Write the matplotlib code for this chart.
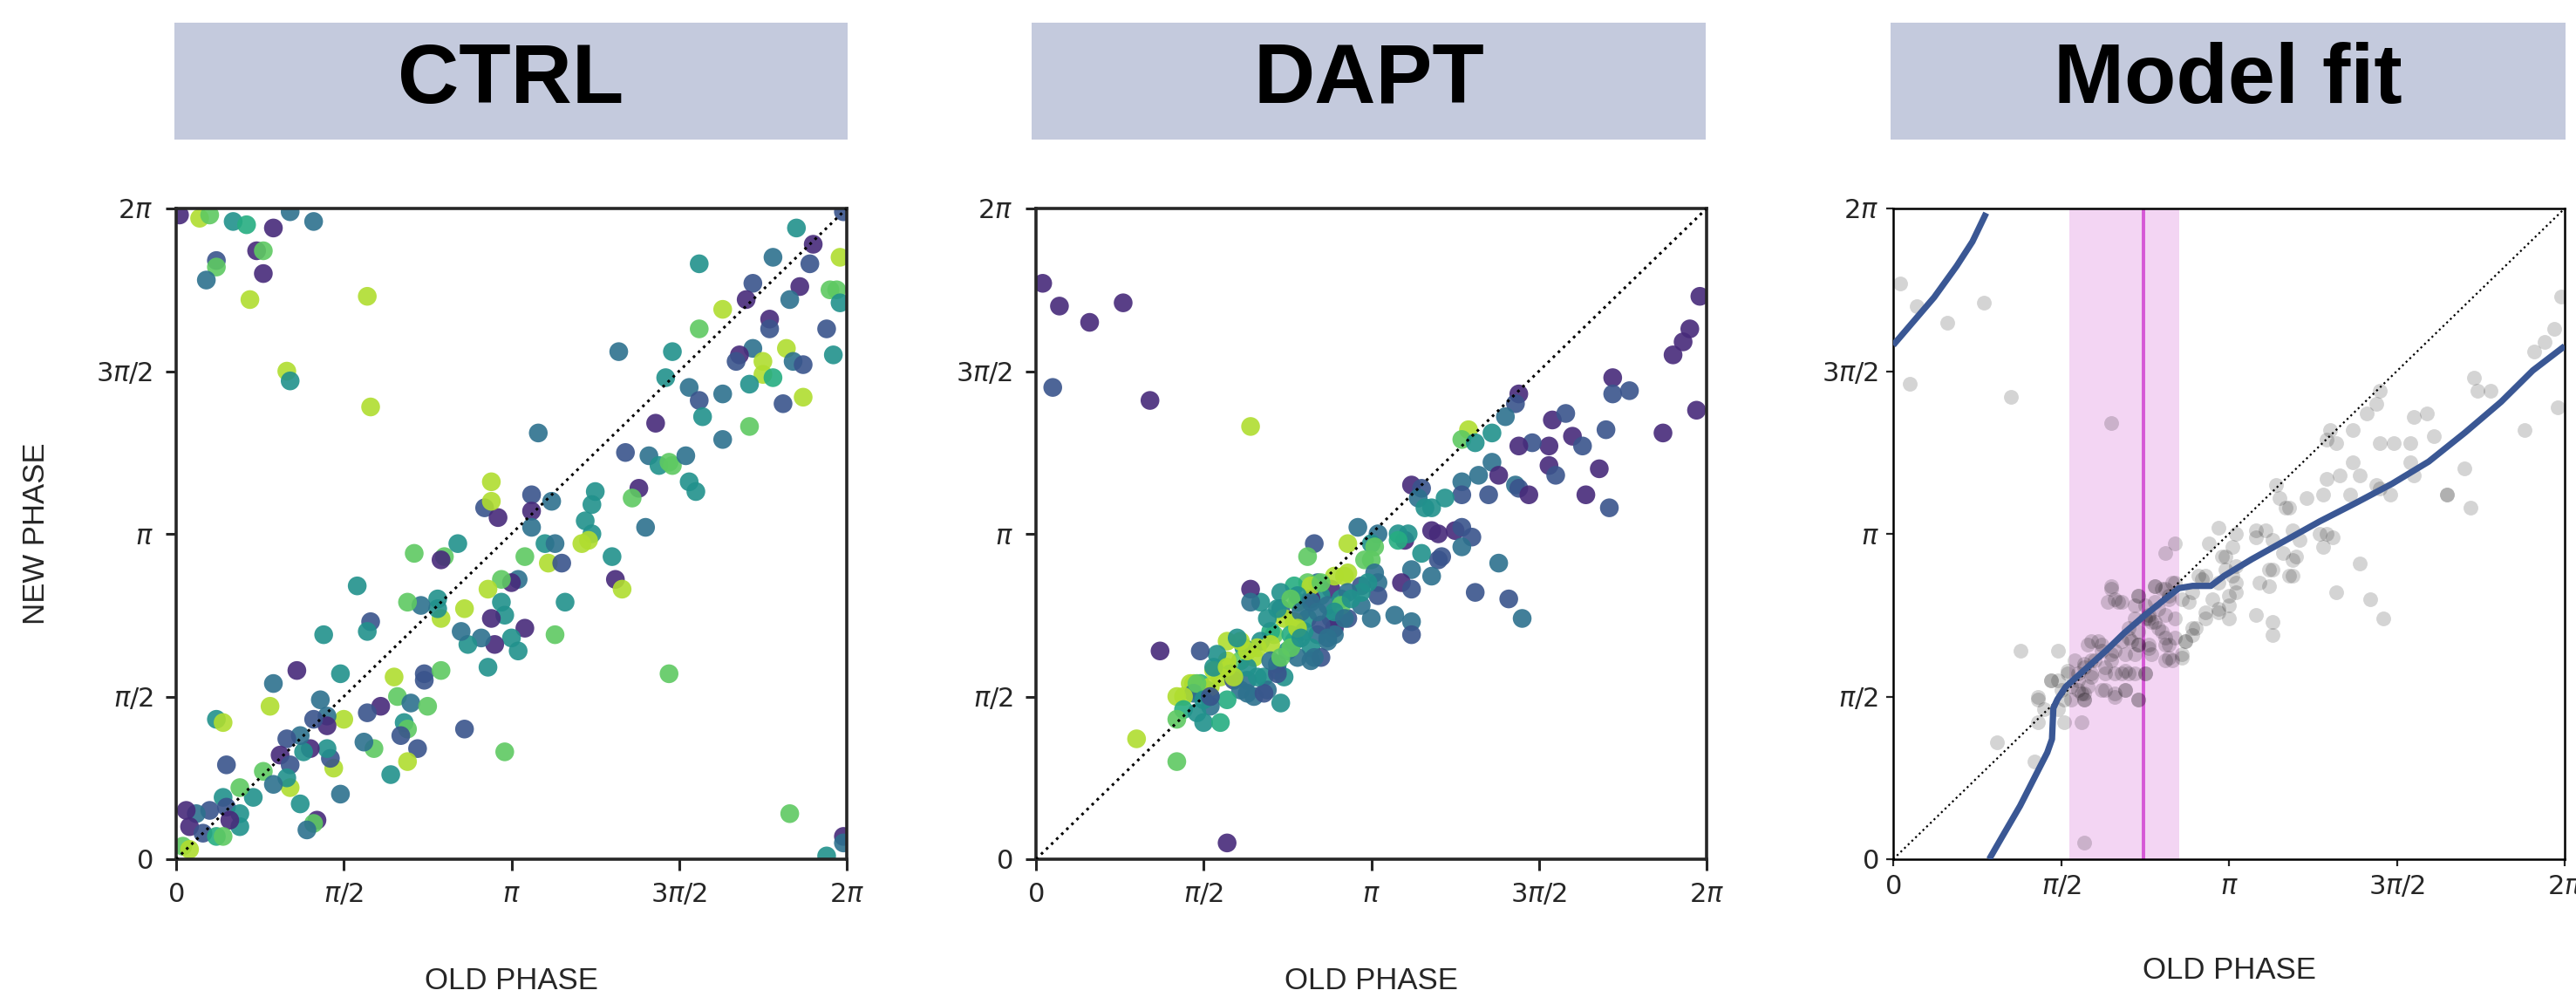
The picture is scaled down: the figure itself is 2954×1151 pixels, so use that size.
import matplotlib

matplotlib.use("Agg")
import matplotlib.pyplot as plt
import numpy as np
from matplotlib.patches import Rectangle

# all phases are given in units of pi
TITLES = ["CTRL", "DAPT", "Model fit"]
TICKS = [0, 0.5, 1, 1.5, 2]
TICK_LABELS = ["$0$", r"$\pi/2$", r"$\pi$", r"$3\pi/2$", r"$2\pi$"]

# colour codes -> position on viridis
HUE_LEVELS = {"P": 0.12, "B": 0.26, "D": 0.37, "T": 0.50, "M": 0.62, "G": 0.75, "Y": 0.88}

ctrl_old = [
    0.01, 0.07, 0.10, 0.17, 0.21, 0.29, 0.34, 0.41, 0.24, 0.26,
    0.12, 0.12, 0.09, 0.26, 0.22, 0.57, 0.33, 0.34, 0.58, 1.99,
    1.85, 1.90, 1.98, 1.56, 1.78, 1.89, 1.72, 1.86, 1.70, 1.63,
    1.95, 1.97, 1.98, 1.83, 1.56, 1.77, 1.77, 1.94, 1.72, 1.68,
    1.67, 1.82, 1.75, 1.75, 1.78, 1.84, 1.87, 1.96, 1.71, 1.63,
    1.87, 1.81, 1.32, 1.48, 1.46, 1.53, 1.56, 1.57, 1.63, 1.71,
    1.43, 1.08, 1.34, 1.41, 1.44, 1.47, 1.48, 1.52, 1.53, 1.55,
    1.38, 1.36, 1.40, 1.25, 1.24, 1.22, 1.24, 1.21, 1.23, 1.30,
    1.31, 1.33, 1.16, 1.13, 1.47, 1.06, 1.12, 1.06, 0.92, 0.96,
    0.94, 0.94, 1.06, 1.10, 1.13, 1.04, 1.11, 1.15, 1.02, 1.00,
    0.97, 0.93, 0.97, 0.98, 0.94, 1.04, 1.00, 1.02, 0.95, 0.91,
    0.87, 0.85, 0.86, 0.79, 0.78, 0.78, 0.73, 0.69, 0.80, 0.79,
    0.84, 0.71, 0.54, 0.58, 0.57, 0.44, 0.29, 0.36, 0.49, 0.65,
    0.74, 0.74, 0.79, 0.93, 0.66, 0.70, 0.75, 0.43, 0.61, 0.57,
    0.28, 0.50, 0.45, 0.45, 0.41, 0.12, 0.14, 0.68, 0.69, 0.67,
    0.86, 0.72, 0.59, 0.56, 0.64, 0.69, 0.98, 0.49, 0.47, 0.46,
    0.45, 0.40, 0.38, 0.37, 0.33, 0.31, 0.34, 0.26, 0.34, 0.33,
    0.29, 0.23, 0.19, 0.15, 0.37, 0.42, 0.41, 0.39, 0.14, 0.15,
    0.19, 0.19, 0.16, 0.10, 0.06, 0.03, 0.04, 0.08, 0.12, 0.14,
    0.02, 0.04, 1.83, 1.99, 1.99, 1.94,
]
ctrl_new = [
    1.98, 1.97, 1.98, 1.96, 1.95, 1.94, 1.99, 1.96, 1.87, 1.87,
    1.84, 1.82, 1.78, 1.80, 1.72, 1.73, 1.50, 1.47, 1.39, 1.99,
    1.94, 1.89, 1.85, 1.83, 1.85, 1.83, 1.77, 1.76, 1.72, 1.69,
    1.75, 1.75, 1.71, 1.72, 1.63, 1.66, 1.63, 1.63, 1.57, 1.55,
    1.53, 1.57, 1.53, 1.49, 1.48, 1.53, 1.52, 1.55, 1.46, 1.43,
    1.42, 1.40, 1.56, 1.56, 1.48, 1.45, 1.41, 1.36, 1.29, 1.33,
    1.34, 1.31, 1.25, 1.24, 1.21, 1.22, 1.21, 1.24, 1.16, 1.13,
    1.14, 1.11, 1.02, 1.13, 1.09, 1.04, 1.00, 0.97, 0.98, 0.93,
    0.86, 0.83, 0.79, 0.69, 0.57, 1.12, 1.10, 1.07, 1.08, 1.05,
    1.16, 1.10, 1.02, 0.97, 0.97, 0.93, 0.91, 0.91, 0.86, 0.85,
    0.86, 0.83, 0.79, 0.75, 0.74, 0.71, 0.68, 0.64, 0.66, 0.68,
    0.66, 0.70, 0.77, 0.74, 0.77, 0.80, 0.78, 0.79, 0.93, 0.92,
    0.97, 0.94, 0.84, 0.73, 0.70, 0.69, 0.54, 0.58, 0.57, 0.56,
    0.57, 0.55, 0.58, 0.59, 0.50, 0.48, 0.47, 0.49, 0.47, 0.45,
    0.47, 0.43, 0.44, 0.41, 0.43, 0.43, 0.42, 0.42, 0.40, 0.38,
    0.40, 0.34, 0.34, 0.36, 0.26, 0.30, 0.33, 0.20, 0.28, 0.31,
    0.34, 0.34, 0.33, 0.38, 0.37, 0.32, 0.29, 0.27, 0.22, 0.25,
    0.23, 0.19, 0.22, 0.29, 0.17, 0.12, 0.11, 0.09, 0.19, 0.16,
    0.14, 0.10, 0.12, 0.15, 0.14, 0.15, 0.10, 0.08, 0.07, 0.07,
    0.04, 0.03, 0.14, 0.07, 0.05, 0.01,
]
ctrl_hue = (
    "PYGTMPDDPG" "BGDPYYYTYB" "TPYTDBBPPY" "GGTDGPBBDP" "BYYYMDBTTD"
    "YBDTTDBTDG" "PDBDTGGDTT" "PGDTTTTYYT" "PYTGGBDPBP" "YYDTDGYBDP"
    "GYTTPPTTPD" "TDYYTTDGGP" "TGTBTTDPTY" "BBGTGDGDPB" "YYDPBTYTGB"
    "BBGDTYGDYB" "TPTDBPBGYT" "DTGBTPGDTB" "TTPBDPPBMG" "GYGPDT"
)

dapt_old = [
    0.02, 0.07, 0.16, 0.26, 0.05, 0.34, 0.64, 1.98, 1.95, 1.93,
    1.90, 1.97, 1.87, 1.72, 1.72, 1.77, 1.44, 1.43, 1.40, 1.54,
    1.58, 1.70, 1.60, 1.63, 1.53, 1.48, 1.44, 1.36, 1.29, 1.27,
    1.31, 1.53, 1.55, 1.68, 1.64, 1.71, 1.36, 1.32, 1.38, 1.27,
    1.43, 1.44, 1.47, 1.35, 1.27, 1.12, 1.15, 1.14, 1.16, 1.22,
    1.18, 1.18, 1.20, 1.25, 1.27, 1.30, 1.27, 1.38, 1.31, 1.41,
    1.45, 1.21, 1.20, 1.15, 1.12, 1.18, 1.10, 1.08, 1.11, 1.08,
    1.09, 1.12, 1.07, 1.12, 1.12, 0.96, 1.02, 1.00, 0.93, 0.98,
    1.00, 0.83, 0.81, 1.01, 1.02, 1.02, 0.97, 0.92, 0.93, 0.88,
    0.84, 0.81, 0.85, 0.77, 0.73, 0.67, 0.64, 0.64, 0.73, 0.78,
    0.82, 0.87, 0.91, 0.93, 1.00, 0.97, 0.97, 0.88, 0.89, 0.89,
    0.81, 0.77, 0.74, 0.71, 0.70, 0.67, 0.77, 0.84, 0.87, 0.82,
    0.75, 0.78, 0.70, 0.66, 0.62, 0.61, 0.57, 0.65, 0.61, 0.57,
    0.54, 0.58, 0.55, 0.53, 0.59, 0.63, 0.68, 0.72, 0.74, 0.82,
    0.85, 0.69, 0.73, 0.65, 0.61, 0.57, 0.52, 0.51, 0.49, 0.49,
    0.52, 0.47, 0.46, 0.47, 0.44, 0.42, 0.44, 0.48, 0.50, 0.55,
    0.42, 0.37, 0.49, 0.30, 0.42, 0.57, 0.69, 0.76, 0.80, 0.72,
    0.63, 0.85, 0.93, 0.99, 1.01, 0.89, 0.82, 0.85, 0.78, 0.72,
    0.76, 0.82, 0.91, 0.94, 0.89, 0.84, 0.79, 0.78, 0.76, 0.83,
    0.87, 0.92, 0.63, 0.60, 0.53, 0.57, 0.59, 0.52, 0.48, 0.63,
    0.68, 0.66, 0.72, 0.70, 0.73, 0.79, 0.50, 0.52,
]
dapt_new = [
    1.77, 1.70, 1.65, 1.71, 1.45, 1.41, 1.33, 1.73, 1.63, 1.59,
    1.55, 1.38, 1.31, 1.48, 1.43, 1.44, 1.43, 1.40, 1.36, 1.35,
    1.37, 1.32, 1.30, 1.27, 1.27, 1.28, 1.27, 1.31, 1.32, 1.29,
    1.28, 1.21, 1.18, 1.20, 1.12, 1.08, 1.22, 1.18, 1.18, 1.16,
    1.15, 1.14, 1.12, 1.12, 1.12, 1.15, 1.14, 1.11, 1.08, 1.11,
    1.08, 1.01, 1.00, 1.01, 1.02, 0.99, 0.96, 0.91, 0.82, 0.80,
    0.74, 0.93, 0.92, 0.94, 0.89, 0.87, 0.98, 1.00, 1.00, 0.98,
    0.85, 0.83, 0.75, 0.73, 0.69, 1.02, 1.00, 0.97, 0.97, 0.92,
    0.92, 0.97, 0.93, 0.88, 0.85, 0.81, 0.84, 0.87, 0.88, 0.83,
    0.85, 0.85, 0.81, 0.84, 0.82, 0.79, 0.83, 0.79, 0.77, 0.79,
    0.80, 0.78, 0.80, 0.74, 0.74, 0.78, 0.82, 0.74, 0.71, 0.69,
    0.74, 0.73, 0.74, 0.69, 0.70, 0.67, 0.67, 0.69, 0.67, 0.65,
    0.64, 0.62, 0.66, 0.65, 0.65, 0.67, 0.67, 0.62, 0.61, 0.61,
    0.63, 0.57, 0.56, 0.58, 0.55, 0.55, 0.56, 0.58, 0.56, 0.61,
    0.62, 0.52, 0.48, 0.50, 0.52, 0.49, 0.50, 0.52, 0.54, 0.51,
    0.47, 0.54, 0.54, 0.51, 0.50, 0.50, 0.46, 0.45, 0.42, 0.42,
    0.43, 0.64, 0.64, 0.37, 0.30, 0.05, 0.74, 0.69, 0.70, 0.60,
    0.59, 0.72, 0.82, 0.85, 0.96, 0.87, 0.84, 0.85, 0.81, 0.77,
    0.80, 0.79, 0.78, 0.80, 0.76, 0.76, 0.76, 0.71, 0.65, 0.62,
    0.68, 0.74, 0.64, 0.68, 0.59, 0.59, 0.56, 0.53, 0.54, 0.51,
    0.51, 0.56, 0.57, 0.61, 0.62, 0.68, 0.49, 0.50,
]
dapt_hue = (
    "PPPPBPYPPP" "PPPPBBPBDP" "BBPBPBPTYG" "TPBPPBDDPD" "DBPBBPBDTT"
    "TPPPBBDDBB" "DBBTDDPTTM" "PBDDBDDTYG" "GBGDDBBYYP" "DGTMTTPDDG"
    "PDTBDDTDPD" "TYYGMTTDDT" "TDYYTYYYGY" "TMYYBDTDTD" "BDTDDMTTMB"
    "DYYDYYMTTM" "GPBYGPTMTD" "TBDTGYYGTT" "GDGTTDDYGD" "DDYTTYYYGD"
    "BTBDGTTB"
)

fit_points_old = [
    0.02, 0.07, 0.16, 0.27, 0.05, 0.35, 0.65, 1.99, 1.97, 1.94,
    1.91, 1.98, 1.88, 1.73, 1.74, 1.78, 1.45, 1.44, 1.41, 1.55,
    1.59, 1.61, 1.45, 1.49, 1.54, 1.30, 1.29, 1.32, 1.37, 1.70,
    1.72, 1.65, 1.55, 1.54, 1.37, 1.39, 1.33, 1.29, 1.28, 1.36,
    1.44, 1.45, 1.48, 1.14, 1.15, 1.18, 1.23, 1.17, 1.27, 1.29,
    1.31, 1.28, 1.19, 1.21, 0.97, 1.02, 1.08, 1.11, 1.13, 1.08,
    1.39, 1.32, 1.42, 1.46, 1.20, 1.19, 1.16, 1.13, 1.19, 1.09,
    1.12, 1.08, 1.13, 1.13, 0.94, 0.99, 1.01, 0.99, 1.01, 1.02,
    1.02, 0.97, 0.93, 0.92, 0.89, 0.95, 0.97, 1.00, 1.00, 0.93,
    0.89, 0.89, 0.87, 0.86, 0.84, 0.81, 0.78, 0.81, 0.84, 0.82,
    0.86, 0.78, 0.73, 0.75, 0.68, 0.65, 0.66, 0.76, 0.78, 0.75,
    0.80, 0.81, 0.76, 0.82, 0.73, 0.70, 0.68, 0.73, 0.77, 0.81,
    0.83, 0.72, 0.69, 0.66, 0.62, 0.58, 0.61, 0.59, 0.57, 0.54,
    0.52, 0.55, 0.59, 0.63, 0.65, 0.68, 0.70, 0.75, 0.62, 0.66,
    0.69, 0.73, 0.58, 0.57, 0.55, 0.53, 0.57, 0.51, 0.50, 0.47,
    0.49, 0.43, 0.45, 0.49, 0.51, 0.43, 0.56, 0.38, 0.49, 0.31,
    0.42, 0.57, 1.65, 0.65, 0.64, 0.67, 0.72, 0.73, 0.78, 0.80,
    0.83, 0.82, 0.79, 0.77, 0.79, 0.76, 0.81, 0.84, 0.72, 0.70,
    0.71, 0.73, 0.76, 0.81, 0.84, 0.82, 0.86, 0.65, 0.62, 0.59,
    0.60, 0.57, 0.55, 0.59, 0.63, 0.66, 0.69, 0.72, 0.75, 0.63,
    0.66, 0.69, 0.73, 0.56, 0.57, 0.53, 0.52, 0.88, 0.90, 0.93,
    0.97, 1.00, 0.87, 0.91, 0.98, 1.02, 1.12, 1.18, 0.47, 0.43,
]
fit_points_new = [
    1.77, 1.70, 1.65, 1.71, 1.46, 1.42, 1.34, 1.73, 1.63, 1.59,
    1.56, 1.39, 1.32, 1.48, 1.44, 1.44, 1.44, 1.40, 1.37, 1.36,
    1.37, 1.30, 1.28, 1.28, 1.28, 1.32, 1.29, 1.28, 1.32, 1.20,
    1.08, 1.12, 1.18, 1.22, 1.22, 1.18, 1.18, 1.17, 1.12, 1.12,
    1.15, 1.14, 1.12, 1.15, 1.11, 1.08, 1.11, 1.08, 1.00, 1.00,
    0.99, 0.96, 1.01, 0.98, 1.02, 1.00, 1.01, 1.01, 0.98, 0.99,
    0.91, 0.82, 0.80, 0.74, 0.93, 0.92, 0.94, 0.89, 0.87, 0.85,
    0.84, 0.75, 0.73, 0.69, 0.97, 0.93, 0.96, 0.89, 0.87, 0.85,
    0.82, 0.85, 0.87, 0.86, 0.82, 0.80, 0.76, 0.74, 0.78, 0.74,
    0.71, 0.69, 0.67, 0.62, 0.97, 0.94, 0.84, 0.83, 0.85, 0.81,
    0.80, 0.79, 0.81, 0.78, 0.79, 0.83, 0.80, 0.75, 0.73, 0.74,
    0.70, 0.68, 0.66, 0.66, 0.70, 0.68, 0.67, 0.66, 0.63, 0.61,
    0.61, 0.63, 0.63, 0.64, 0.64, 0.66, 0.67, 0.61, 0.60, 0.61,
    0.58, 0.57, 0.57, 0.59, 0.61, 0.57, 0.57, 0.57, 0.52, 0.50,
    0.52, 0.49, 0.53, 0.51, 0.52, 0.49, 0.49, 0.49, 0.52, 0.55,
    0.55, 0.49, 0.46, 0.46, 0.42, 0.42, 0.42, 0.64, 0.64, 0.36,
    0.30, 0.05, 1.12, 0.84, 0.79, 0.79, 0.78, 0.81, 0.84, 0.83,
    0.85, 0.80, 0.77, 0.73, 0.71, 0.74, 0.75, 0.74, 0.74, 0.71,
    0.67, 0.66, 0.65, 0.66, 0.68, 0.62, 0.63, 0.63, 0.66, 0.67,
    0.61, 0.59, 0.55, 0.56, 0.57, 0.57, 0.58, 0.57, 0.57, 0.52,
    0.51, 0.52, 0.49, 0.51, 0.49, 0.53, 0.57, 0.79, 0.71, 0.76,
    0.77, 0.81, 0.67, 0.87, 0.93, 0.90, 0.89, 0.87, 0.55, 0.50,
]

# fitted curve, split where it wraps round 2*pi
fit_wrap_old = [0.00, 0.054, 0.122, 0.189, 0.236, 0.277]
fit_wrap_new = [1.58, 1.645, 1.727, 1.823, 1.898, 1.986]
fit_curve_old = [
    0.286, 0.324, 0.378, 0.459, 0.473, 0.477, 0.489, 0.514, 0.568, 0.635,
    0.689, 0.743, 0.797, 0.851, 0.892, 0.946, 0.986, 1.068, 1.162, 1.270,
    1.378, 1.486, 1.595, 1.703, 1.811, 1.905, 2.000,
]
fit_curve_new = [
    0.000, 0.068, 0.164, 0.328, 0.369, 0.464, 0.491, 0.530, 0.580, 0.642,
    0.696, 0.744, 0.789, 0.833, 0.840, 0.840, 0.871, 0.922, 0.976, 1.038,
    1.095, 1.154, 1.222, 1.311, 1.406, 1.502, 1.577,
]

# shaded interval and its centre on panel 3
band_lo, band_hi, band_mid = 0.524, 0.851, 0.745

FIG_W, FIG_H = 2954, 1151
AX_LEFT = [202, 1188, 2171]
AX_WIDTH = [769, 769, 770]
AX_TOP, AX_BOTTOM = 239, 985
BOX_LEFT = [200, 1183, 2168]
BOX_WIDTH = [772, 773, 774]


def style_axes(ax, heavy):
    ax.set_xlim(0, 2 * np.pi)
    ax.set_ylim(0, 2 * np.pi)
    ticks = np.array(TICKS) * np.pi
    ax.set_xticks(ticks, labels=TICK_LABELS)
    ax.set_yticks(ticks, labels=TICK_LABELS)
    for spine in ax.spines.values():
        spine.set_linewidth(1.3 if heavy else 0.9)
        spine.set_color("#262626" if heavy else "black")
    ax.tick_params(
        direction="out",
        length=4.5 if heavy else 3.0,
        width=1.1 if heavy else 0.8,
        pad=5 if heavy else 3,
        labelsize=11,
        colors="#262626",
    )
    ax.plot([0, 2 * np.pi], [0, 2 * np.pi], ls=":", color="black",
            lw=1.1 if heavy else 0.8, zorder=3)


def main():
    """main function"""
    plt.rcParams["font.family"] = ["Liberation Sans", "DejaVu Sans"]
    plt.rcParams["mathtext.fontset"] = "dejavusans"

    fig = plt.figure(figsize=(FIG_W / 200, FIG_H / 200), dpi=200)
    axes = []
    for left, width in zip(AX_LEFT, AX_WIDTH):
        ax = fig.add_axes([left / FIG_W, 1 - AX_BOTTOM / FIG_H,
                           width / FIG_W, (AX_BOTTOM - AX_TOP) / FIG_H])
        axes.append(ax)

    # title boxes
    for title, left, width in zip(TITLES, BOX_LEFT, BOX_WIDTH):
        fig.patches.append(Rectangle((left / FIG_W, 1 - 160 / FIG_H), width / FIG_W,
                                     134 / FIG_H, transform=fig.transFigure,
                                     facecolor="#c4cadd", edgecolor="none"))
        fig.text((left + width / 2) / FIG_W, 1 - 93 / FIG_H, title, ha="center",
                 va="center", fontsize=35, fontweight="bold", color="black")

    for ax, old, new, hue in [(axes[0], ctrl_old, ctrl_new, ctrl_hue),
                              (axes[1], dapt_old, dapt_new, dapt_hue)]:
        style_axes(ax, heavy=True)
        ax.scatter(np.array(old) * np.pi, np.array(new) * np.pi,
                   c=[HUE_LEVELS[h] for h in hue], cmap="viridis", vmin=0, vmax=1,
                   s=60, alpha=0.9, linewidths=0, zorder=2)

    ax = axes[2]
    style_axes(ax, heavy=False)
    ax.axvspan(band_lo * np.pi, band_hi * np.pi, color="#f3d5f3", lw=0, zorder=0)
    ax.axvline(band_mid * np.pi, color="#d658d6", lw=1.4, zorder=1)
    ax.scatter(np.array(fit_points_old) * np.pi, np.array(fit_points_new) * np.pi,
               color="black", alpha=0.17, s=37, linewidths=0, zorder=2)
    for xs, ys in [(fit_wrap_old, fit_wrap_new), (fit_curve_old, fit_curve_new)]:
        ax.plot(np.array(xs) * np.pi, np.array(ys) * np.pi, color="#3a5794",
                lw=2.6, solid_capstyle="butt", zorder=4)

    # axis labels
    for i, ax in enumerate(axes):
        y = 1125 if i < 2 else 1113
        fig.text((AX_LEFT[i] + AX_WIDTH[i] / 2) / FIG_W, 1 - y / FIG_H, "OLD PHASE",
                 ha="center", va="center", fontsize=12.5, color="#262626")
    fig.text(42 / FIG_W, 1 - 612 / FIG_H, "NEW PHASE", rotation=90,
             ha="center", va="center", fontsize=12.5, color="#262626")

    fig.savefig("out.png", dpi=200)


if __name__ == "__main__":
    main()
